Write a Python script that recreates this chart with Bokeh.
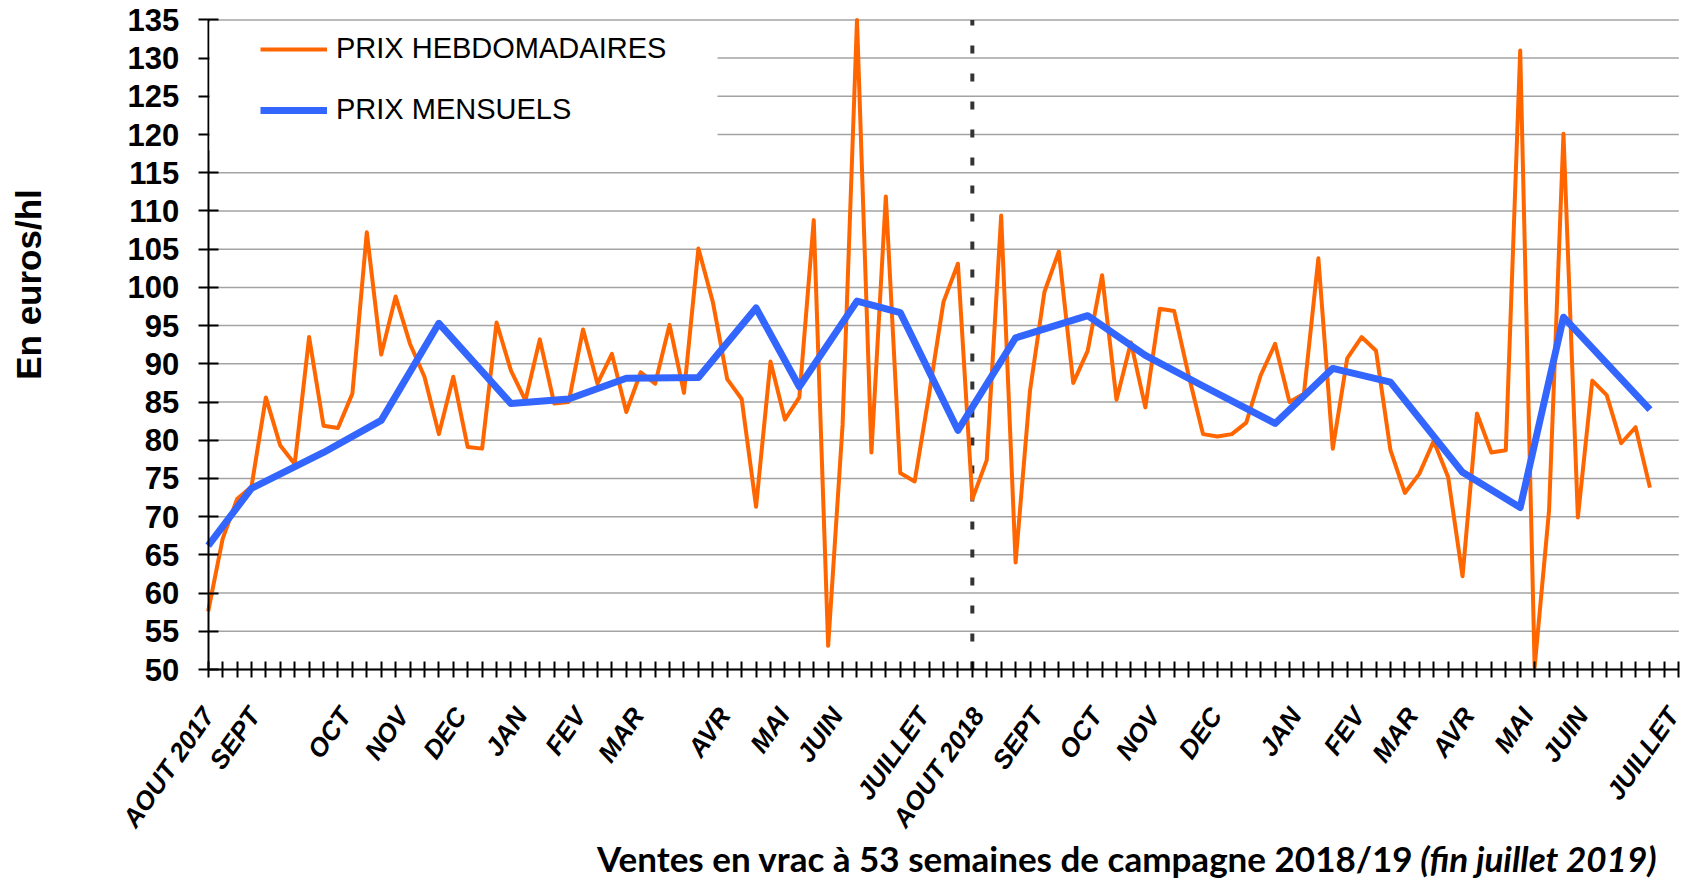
import math
from bokeh.plotting import figure
from bokeh.models import (Range1d, FixedTicker, Legend, LegendItem, Label, ColumnDataSource,
                          LinearAxis, BoxAnnotation)
from bokeh.embed import file_html
from bokeh.resources import INLINE

# ---------------- data ----------------
weekly_prices = [
    57.6, 67.1, 72.3, 73.9, 85.6, 79.3, 76.9, 93.5, 81.9, 81.6,
    86.1, 107.2, 91.2, 98.8, 92.6, 88.3, 80.8, 88.3, 79.1, 78.9,
    95.4, 89.1, 85.2, 93.2, 84.8, 85.0, 94.5, 87.4, 91.3, 83.7,
    88.9, 87.4, 95.1, 86.2, 105.1, 98.1, 88.0, 85.4, 71.3, 90.3,
    82.7, 85.6, 108.8, 53.1, 82.0, 135.0, 78.4, 111.9, 75.7, 74.6,
    86.0, 98.1, 103.1, 72.3, 77.4, 109.4, 64.0, 86.5, 99.4, 104.7,
    87.5, 91.7, 101.6, 85.3, 92.8, 84.3, 97.2, 96.9, 88.5, 80.8,
    80.5, 80.8, 82.3, 88.5, 92.6, 85.0, 86.1, 103.8, 78.9, 90.7,
    93.5, 91.7, 78.7, 73.1, 75.6, 79.9, 75.2, 62.2, 83.5, 78.4,
    78.7, 131.0, 50.3, 70.8, 120.1, 69.9, 87.8, 85.9, 79.6, 81.7,
    73.8,
]
weeks = list(range(len(weekly_prices)))

monthly_weeks = [0, 3, 8, 12, 16, 21, 25, 29, 34, 38, 41, 45, 48,
                 52, 56, 61, 65, 69, 74, 78, 82, 87, 91, 94, 100]
monthly_prices = [66.2, 73.7, 78.4, 82.6, 95.3, 84.8, 85.4, 88.1, 88.2, 97.3, 87.0, 98.2, 96.7,
                  81.3, 93.4, 96.3, 91.1, 87.1, 82.2, 89.4, 87.6, 75.8, 71.2, 96.1, 84.0]

month_labels = ["AOUT 2017", "SEPT", "OCT", "NOV", "DEC", "JAN", "FEV", "MAR", "AVR", "MAI",
                "JUIN", "JUILLET", "AOUT 2018", "SEPT", "OCT", "NOV", "DEC", "JAN", "FEV",
                "MAR", "AVR", "MAI", "JUIN", "JUILLET"]
month_label_pos = [0.0, 3.2, 9.5, 13.5, 17.5, 21.7, 25.8, 29.8, 35.8, 39.9, 43.6, 49.6,
                   53.4, 57.5, 61.6, 65.6, 69.9, 75.4, 79.8, 83.5, 87.4, 91.5, 95.3, 101.6]

n_week_ticks = 103
campaign_start_week = 53
y_ticks = list(range(50, 140, 5))

# ---------------- layout helpers (pixel placement of the frame) ----------------
W, H = 1690, 878
PX_LEFT, PX_RIGHT = 207.7, 1678.3     # where week 0 / week 102 fall
PX_TOP, PX_BOTTOM = 19.4, 669.0       # where 135 / 50 fall
sx = (PX_RIGHT - PX_LEFT) / (n_week_ticks - 1)
sy = (PX_BOTTOM - PX_TOP) / (y_ticks[-1] - y_ticks[0])
x_start = 0 - PX_LEFT / sx
x_end = x_start + W / sx
y_end = y_ticks[-1] + PX_TOP / sy
y_start = y_end - H / sy


def px_x(px):
    return x_start + px / sx


def px_y(py):
    return y_end - py / sy


p = figure(width=W, height=H,
           x_range=Range1d(x_start, x_end), y_range=Range1d(y_start, y_end),
           output_backend="svg", toolbar_location=None,
           min_border_left=0, min_border_right=0, min_border_top=0, min_border_bottom=0)
p.min_border = 0
p.outline_line_color = None
p.background_fill_color = "white"
p.border_fill_color = "white"
p.xgrid.visible = False
p.ygrid.visible = False

# horizontal grid lines (only across the plotting area)
p.segment(x0=0, x1=n_week_ticks - 1, y0=y_ticks, y1=y_ticks,
          line_color="#a3a3a3", line_width=1.5, level="underlay")

# y axis
ya = p.yaxis[0]
ya.fixed_location = 0
ya.bounds = (y_ticks[0], y_ticks[-1])
ya.ticker = FixedTicker(ticks=y_ticks)
ya.axis_line_color = "black"
ya.axis_line_width = 2
ya.major_tick_line_color = "black"
ya.major_tick_line_width = 2
ya.major_tick_in = 10
ya.major_tick_out = 10
ya.minor_tick_line_color = None
ya.major_label_text_font = "Liberation Sans"
ya.major_label_text_font_style = "bold"
ya.major_label_text_font_size = "31px"
ya.major_label_text_color = "black"
ya.major_label_standoff = 19

# x axis: week tick marks
xa = p.xaxis[0]
xa.fixed_location = y_ticks[0]
xa.bounds = (0, n_week_ticks - 1)
xa.ticker = FixedTicker(ticks=list(range(n_week_ticks)))
xa.major_label_text_color = None
xa.axis_line_color = "black"
xa.axis_line_width = 2
xa.major_tick_line_color = "black"
xa.major_tick_line_width = 2
xa.major_tick_in = 8
xa.major_tick_out = 8
xa.minor_tick_line_color = None

# x axis: month labels
xl = LinearAxis(fixed_location=y_ticks[0], ticker=FixedTicker(ticks=month_label_pos),
                major_label_overrides={pos: lab for pos, lab in zip(month_label_pos, month_labels)},
                axis_line_color=None, major_tick_line_color=None, minor_tick_line_color=None,
                major_tick_in=0, major_tick_out=0)
xl.major_label_orientation = math.radians(55)
xl.major_label_text_font = "Liberation Sans"
xl.major_label_text_font_style = "bold italic"
xl.major_label_text_font_size = "26px"
xl.major_label_text_color = "black"
xl.major_label_standoff = 41
p.add_layout(xl, "below")

# campaign separator
p.segment(x0=[campaign_start_week], x1=[campaign_start_week], y0=[y_ticks[0]], y1=[y_ticks[-1]],
          line_color="#333333", line_width=4, line_dash="8 20")

# series
src_w = ColumnDataSource(dict(x=weeks, y=weekly_prices))
src_m = ColumnDataSource(dict(x=monthly_weeks, y=monthly_prices))
r_w = p.line("x", "y", source=src_w, line_color="#FF6600", line_width=4, line_join="round")
r_m = p.line("x", "y", source=src_m, line_color="#3366FF", line_width=7, line_join="round")

# white backing of the legend area (hides the grid lines there, like the original)
p.add_layout(BoxAnnotation(left=px_x(209), right=px_x(717), top=px_y(21.5), bottom=px_y(150),
                           fill_color="white", fill_alpha=1.0, line_color=None))

legend = Legend(items=[LegendItem(label="PRIX HEBDOMADAIRES", renderers=[r_w]),
                       LegendItem(label="PRIX MENSUELS", renderers=[r_m])],
                location=(260, H - 126), orientation="vertical",
                padding=12, spacing=28, glyph_width=67, glyph_height=30, label_height=30,
                label_width=380, label_standoff=9, border_line_color=None,
                background_fill_color="white", background_fill_alpha=0.0,
                label_text_font="Liberation Sans", label_text_font_size="29px",
                label_text_color="black")
p.add_layout(legend, "center")

# axis titles
p.add_layout(Label(x=px_x(28), y=px_y(284), text="En euros/hl",
                   angle=math.pi / 2, text_align="center", text_baseline="middle",
                   text_font="Liberation Sans", text_font_style="bold", text_font_size="35px",
                   text_color="black"))
p.add_layout(Label(x=px_x(1413), y=px_y(857),
                   text="Ventes en vrac à 53 semaines de campagne 2018/19",
                   text_align="right", text_baseline="middle",
                   text_font="Lato", text_font_style="bold", text_font_size="35px",
                   text_color="black"))
p.add_layout(Label(x=px_x(1656), y=px_y(857),
                   text="(fin juillet 2019)",
                   text_align="right", text_baseline="middle",
                   text_font="Lato", text_font_style="bold italic", text_font_size="35px",
                   text_color="black"))

open("out.html", "w").write(file_html(p, INLINE))
